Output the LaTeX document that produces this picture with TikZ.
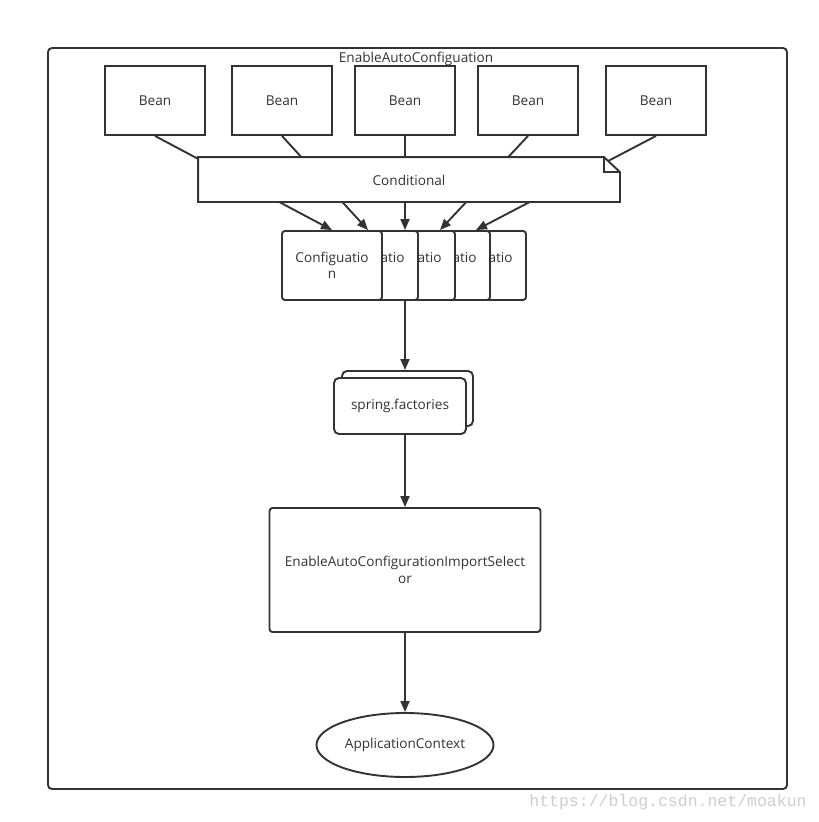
\documentclass[tikz,border=0pt]{standalone}
\usepackage{fontspec}
\setmainfont{Open Sans}
\newfontfamily\wmfont{Liberation Mono}
\usetikzlibrary{arrows.meta,shapes.geometric}
\definecolor{dk}{RGB}{51,51,51}
\definecolor{wm}{RGB}{205,205,205}
\begin{document}
\begin{tikzpicture}[x=1pt,y=-1pt,line width=1.9pt,
  every node/.style={text=dk,font=\fontsize{13.6}{16.5}\selectfont,inner sep=0pt},
  beanbox/.style={draw=dk,fill=white,minimum width=100pt,minimum height=69pt},
  cfgbox/.style={draw=dk,fill=white,rounded corners=3pt,minimum width=100pt,minimum height=69pt,align=center},
  sfbox/.style={draw=dk,fill=white,rounded corners=5pt},
  conn/.style={draw=dk,-{Triangle[length=11pt,width=9pt]}},
  plainline/.style={draw=dk}]
\useasboundingbox (0,0) rectangle (819,822);
% outer frame
\node[draw=dk,rounded corners=4pt,minimum width=739pt,minimum height=741pt] (frame) at (417.5,418.5) {};
\node (title) at (416,59) {EnableAutoConfiguation};
% beans
\node[beanbox] (b1) at (155,100.5) {Bean};
\node[beanbox] (b2) at (282,100.5) {Bean};
\node[beanbox] (b3) at (405,100.5) {Bean};
\node[beanbox] (b4) at (528,100.5) {Bean};
\node[beanbox] (b5) at (656,100.5) {Bean};
% configuration stack (back to front)
\node[cfgbox] (c5) at (476,265.5) {Configuatio\\n};
\node[cfgbox] (c4) at (440,265.5) {Configuatio\\n};
\node[cfgbox] (c3) at (405,265.5) {Configuatio\\n};
\node[cfgbox] (c2) at (368,265.5) {Configuatio\\n};
\node[cfgbox] (c1) at (332,265.5) {Configuatio\\n};
% bean -> configuration arrows
\draw[conn] (b1.south) -- (c1.north);
\draw[conn] (b2.south) -- (c2.north);
\draw[conn] (b3.south) -- (c3.north);
\draw[conn] (b4.south) -- (c4.north);
\draw[conn] (b5.south) -- (c5.north);
% conditional note
\node[minimum width=420pt,minimum height=43pt] (cond) at (409,179.5) {};
\draw[dk,fill=white] (cond.north west) -- ([xshift=-16pt]cond.north east) -- ([yshift=-15pt]cond.north east) -- (cond.south east) -- (cond.south west) -- cycle;
\draw[dk] ([xshift=-16pt]cond.north east) -- ([xshift=-16pt,yshift=-15pt]cond.north east) -- ([yshift=-15pt]cond.north east);
\node at ([yshift=-1pt]cond.center) {Conditional};
% spring.factories
\node[sfbox,minimum width=131pt,minimum height=55pt] (sfb) at (407.5,398.5) {};
\node[sfbox,minimum width=132pt,minimum height=56pt] (sf) at (400,406) {spring.factories};
\draw[conn] (c3.south) -- (c3.south |- sfb.north);
% selector
\node[draw=dk,fill=white,rounded corners=3pt,minimum width=271pt,minimum height=124pt,align=center] (sel) at (405,570) {EnableAutoConfigurationImportSelect\\or};
\draw[conn] (sel.north |- sf.south) -- (sel.north);
% application context
\node[draw=dk,ellipse,minimum width=177pt,minimum height=64pt] (app) at (405,745) {ApplicationContext};
\draw[conn] (sel.south) -- (app.north);
% watermark
\node[text=wm,font=\wmfont\fontsize{16.5}{18}\selectfont] (wmk) at (668,802) {https://blog.csdn.net/moakun};
\end{tikzpicture}
\end{document}
